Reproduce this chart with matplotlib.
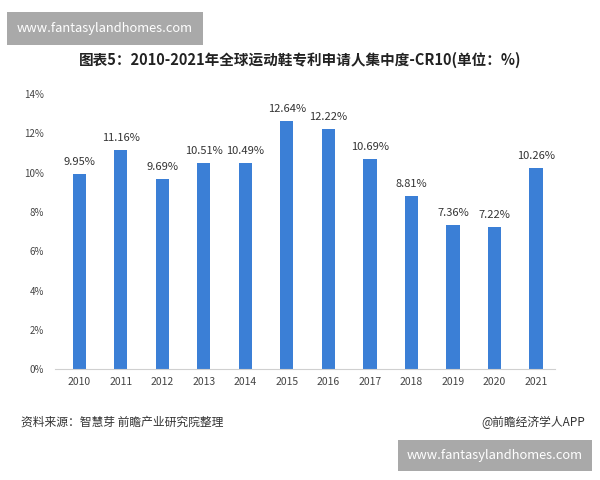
import matplotlib
matplotlib.use("Agg")
import matplotlib.pyplot as plt
import numpy as np

plt.rcParams['font.family'] = ['Noto Sans CJK SC', 'DejaVu Sans']

years = ["2010", "2011", "2012", "2013", "2014", "2015",
         "2016", "2017", "2018", "2019", "2020", "2021"]
cr10 = [9.95, 11.16, 9.69, 10.51, 10.49, 12.64,
        12.22, 10.69, 8.81, 7.36, 7.22, 10.26]
yticks = [0, 2, 4, 6, 8, 10, 12, 14]

fig = plt.figure(figsize=(6, 4.8), dpi=100)
ax = fig.add_axes([0.092, 0.231, 0.833, 0.573])

x = np.arange(len(years))
ax.bar(x, cr10, width=0.32, color="#3B7FD6", zorder=2)
for xi, v in zip(x, cr10):
    ax.text(xi, v + 0.35, f"{v:.2f}%", ha="center", va="bottom",
            fontsize=8, color="#333333")

ax.set_xlim(-0.58, 11.46)
ax.set_ylim(0, 14)
ax.set_xticks(x)
ax.set_xticklabels(years, fontsize=7.5, color="#444444")
ax.set_yticks(yticks)
ax.set_yticklabels([f"{t}%" for t in yticks], fontsize=7, color="#444444")
ax.tick_params(length=0, pad=6)
ax.tick_params(axis="y", pad=8)
for s in ["top", "right", "left"]:
    ax.spines[s].set_visible(False)
ax.spines["bottom"].set_color("#d0d0d0")

fig.text(0.5, 0.875, "图表5：2010-2021年全球运动鞋专利申请人集中度-CR10(单位：%)",
         ha="center", va="center", fontsize=10.5, fontweight="bold", color="#222222")

fig.text(0.035, 0.12, "资料来源：智慧芽 前瞻产业研究院整理", ha="left", va="center",
         fontsize=8.5, color="#333333")
fig.text(0.975, 0.12, "@前瞻经济学人APP", ha="right", va="center",
         fontsize=8.5, color="#333333")

# watermark boxes
fig.text(0.175, 0.941, "www.fantasylandhomes.com", ha="center", va="center",
         fontsize=9.3, color="white",
         bbox=dict(boxstyle="square,pad=0.75", fc="#a9a9a9", ec="none"))
fig.text(0.825, 0.051, "www.fantasylandhomes.com", ha="center", va="center",
         fontsize=9.3, color="white",
         bbox=dict(boxstyle="square,pad=0.7", fc="#a9a9a9", ec="none"))

fig.savefig("out.png", dpi=100)
